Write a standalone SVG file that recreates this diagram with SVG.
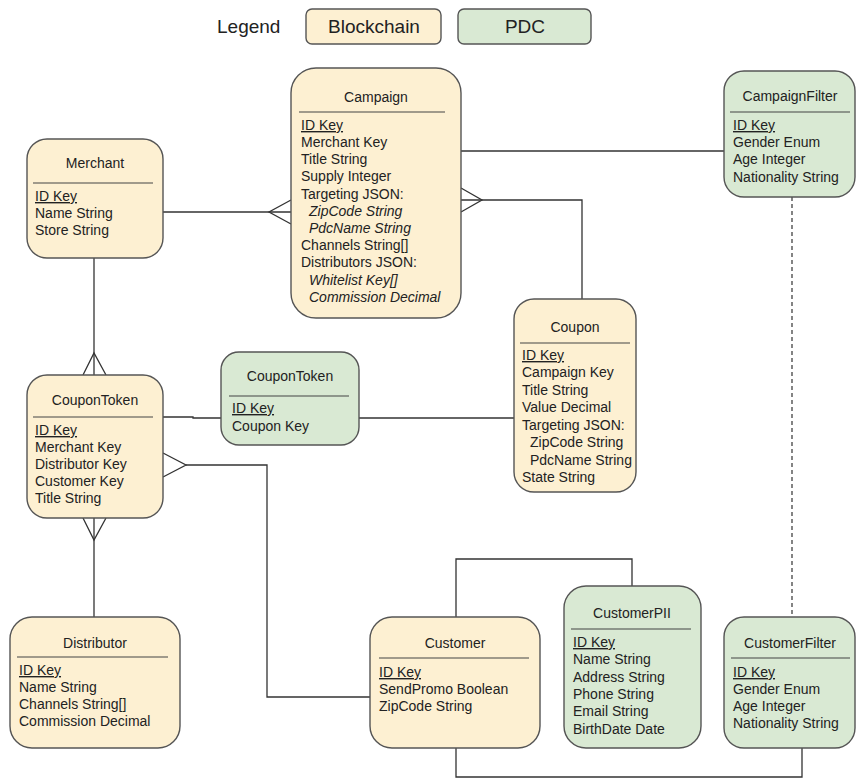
<svg xmlns="http://www.w3.org/2000/svg" width="856" height="780" viewBox="0 0 856 780">
  <style>
    text { font-family: "Liberation Sans", Arial, sans-serif; fill: #222; }
    .t { font-size: 14px; text-anchor: middle; }
    .r { font-size: 14px; }
    .i { font-style: italic; }
    .k { text-decoration: underline; }
    .lg { font-size: 19px; }
    .bc { fill: #fdf0d2; stroke: #555; stroke-width: 1.4; }
    .pdc { fill: #d9e9d3; stroke: #555; stroke-width: 1.4; }
    .div { stroke: #444; stroke-width: 1.2; }
    .c { fill: none; stroke: #333; stroke-width: 1.3; }
    .d { fill: none; stroke: #333; stroke-width: 1.2; stroke-dasharray: 4 3; }
  </style>

  <!-- legend -->
  <g id="legend">
    <text class="lg" x="217" y="33">Legend</text>
    <rect class="bc" x="306" y="9" width="135" height="35" rx="6"/>
    <text class="lg" x="374" y="33" text-anchor="middle">Blockchain</text>
    <rect class="pdc" x="458" y="9" width="133" height="35" rx="6"/>
    <text class="lg" x="525" y="33" text-anchor="middle">PDC</text>
  </g>

  <!-- relationships -->
  <g id="connectors">
    <!-- Campaign - CampaignFilter -->
    <path class="c" d="M461 151 H724"/>
    <!-- Campaign -< Coupon -->
    <path class="c" d="M461 200 H582 V299"/>
    <path class="c" d="M461 188 L482 200 L461 212"/>
    <!-- Merchant -< Campaign -->
    <path class="c" d="M163 212 H291"/>
    <path class="c" d="M291 200 L269 212 L291 224"/>
    <!-- Merchant -< CouponToken -->
    <path class="c" d="M94 258 V375"/>
    <path class="c" d="M83 375 L94 353 L106 375"/>
    <!-- CouponToken >- Distributor -->
    <path class="c" d="M94 518 V617"/>
    <path class="c" d="M83 518 L94 540 L106 518"/>
    <!-- CouponToken - CouponToken (PDC) - Coupon -->
    <path class="c" d="M163 417 H193 V418 H221"/>
    <path class="c" d="M359 418 H514"/>
    <!-- CouponToken >- Customer -->
    <path class="c" d="M186 465 H267 V697 H370"/>
    <path class="c" d="M163 453 L186 465 L163 477"/>
    <!-- Customer - CustomerPII -->
    <path class="c" d="M456 617 V559 H632 V586"/>
    <!-- Customer - CustomerFilter -->
    <path class="c" d="M456 748 V777 H802 V748"/>
    <!-- CampaignFilter - CustomerFilter -->
    <path class="d" d="M792 197 V617"/>
  </g>

  <g id="merchant">
    <rect class="bc" x="27" y="139" width="136" height="119" rx="20"/>
    <text class="t" x="95" y="168">Merchant</text>
    <line class="div" x1="33" y1="183" x2="153" y2="183"/>
    <text class="r k" x="35" y="201">ID Key</text>
    <text class="r" x="35" y="218">Name String</text>
    <text class="r" x="35" y="235">Store String</text>
  </g>

  <g id="campaign">
    <rect class="bc" x="291" y="68" width="170" height="250" rx="25"/>
    <text class="t" x="376" y="102">Campaign</text>
    <line class="div" x1="299" y1="112" x2="445" y2="112"/>
    <text class="r k" x="301" y="130">ID Key</text>
    <text class="r" x="301" y="147">Merchant Key</text>
    <text class="r" x="301" y="164">Title String</text>
    <text class="r" x="301" y="181">Supply Integer</text>
    <text class="r" x="301" y="199">Targeting JSON:</text>
    <text class="r i" x="309" y="216">ZipCode String</text>
    <text class="r i" x="309" y="233">PdcName String</text>
    <text class="r" x="301" y="250">Channels String[]</text>
    <text class="r" x="301" y="267">Distributors JSON:</text>
    <text class="r i" x="309" y="285">Whitelist Key[]</text>
    <text class="r i" x="309" y="302">Commission Decimal</text>
  </g>

  <g id="campaign-filter">
    <rect class="pdc" x="724" y="71" width="131" height="126" rx="20"/>
    <text class="t" x="790" y="101">CampaignFilter</text>
    <line class="div" x1="730" y1="112" x2="850" y2="112"/>
    <text class="r k" x="733" y="130">ID Key</text>
    <text class="r" x="733" y="147">Gender Enum</text>
    <text class="r" x="733" y="164">Age Integer</text>
    <text class="r" x="733" y="182">Nationality String</text>
  </g>

  <g id="coupon">
    <rect class="bc" x="514" y="299" width="122" height="193" rx="20"/>
    <text class="t" x="575" y="332">Coupon</text>
    <line class="div" x1="520" y1="343" x2="630" y2="343"/>
    <text class="r k" x="522" y="360">ID Key</text>
    <text class="r" x="522" y="377">Campaign Key</text>
    <text class="r" x="522" y="395">Title String</text>
    <text class="r" x="522" y="412">Value Decimal</text>
    <text class="r" x="522" y="430">Targeting JSON:</text>
    <text class="r" x="530" y="447">ZipCode String</text>
    <text class="r" x="530" y="465">PdcName String</text>
    <text class="r" x="522" y="482">State String</text>
  </g>

  <g id="coupon-token">
    <rect class="bc" x="27" y="375" width="136" height="143" rx="20"/>
    <text class="t" x="95" y="405">CouponToken</text>
    <line class="div" x1="33" y1="417" x2="153" y2="417"/>
    <text class="r k" x="35" y="435">ID Key</text>
    <text class="r" x="35" y="452">Merchant Key</text>
    <text class="r" x="35" y="469">Distributor Key</text>
    <text class="r" x="35" y="486">Customer Key</text>
    <text class="r" x="35" y="503">Title String</text>
  </g>

  <g id="coupon-token-pdc">
    <rect class="pdc" x="221" y="352" width="138" height="93" rx="18"/>
    <text class="t" x="290" y="381">CouponToken</text>
    <line class="div" x1="229" y1="396" x2="349" y2="396"/>
    <text class="r k" x="232" y="413">ID Key</text>
    <text class="r" x="232" y="431">Coupon Key</text>
  </g>

  <g id="distributor">
    <rect class="bc" x="10" y="617" width="170" height="131" rx="22"/>
    <text class="t" x="95" y="648">Distributor</text>
    <line class="div" x1="17" y1="657" x2="168" y2="657"/>
    <text class="r k" x="19" y="675">ID Key</text>
    <text class="r" x="19" y="692">Name String</text>
    <text class="r" x="19" y="709">Channels String[]</text>
    <text class="r" x="19" y="726">Commission Decimal</text>
  </g>

  <g id="customer">
    <rect class="bc" x="370" y="617" width="170" height="131" rx="22"/>
    <text class="t" x="455" y="648">Customer</text>
    <line class="div" x1="379" y1="658" x2="529" y2="658"/>
    <text class="r k" x="379" y="677">ID Key</text>
    <text class="r" x="379" y="694">SendPromo Boolean</text>
    <text class="r" x="379" y="711">ZipCode String</text>
  </g>

  <g id="customer-pii">
    <rect class="pdc" x="564" y="586" width="137" height="162" rx="22"/>
    <text class="t" x="632" y="618">CustomerPII</text>
    <line class="div" x1="571" y1="629" x2="691" y2="629"/>
    <text class="r k" x="573" y="647">ID Key</text>
    <text class="r" x="573" y="664">Name String</text>
    <text class="r" x="573" y="682">Address String</text>
    <text class="r" x="573" y="699">Phone String</text>
    <text class="r" x="573" y="716">Email String</text>
    <text class="r" x="573" y="734">BirthDate Date</text>
  </g>

  <g id="customer-filter">
    <rect class="pdc" x="724" y="617" width="131" height="131" rx="20"/>
    <text class="t" x="790" y="648">CustomerFilter</text>
    <line class="div" x1="731" y1="658" x2="850" y2="658"/>
    <text class="r k" x="733" y="677">ID Key</text>
    <text class="r" x="733" y="694">Gender Enum</text>
    <text class="r" x="733" y="711">Age Integer</text>
    <text class="r" x="733" y="728">Nationality String</text>
  </g>
</svg>
